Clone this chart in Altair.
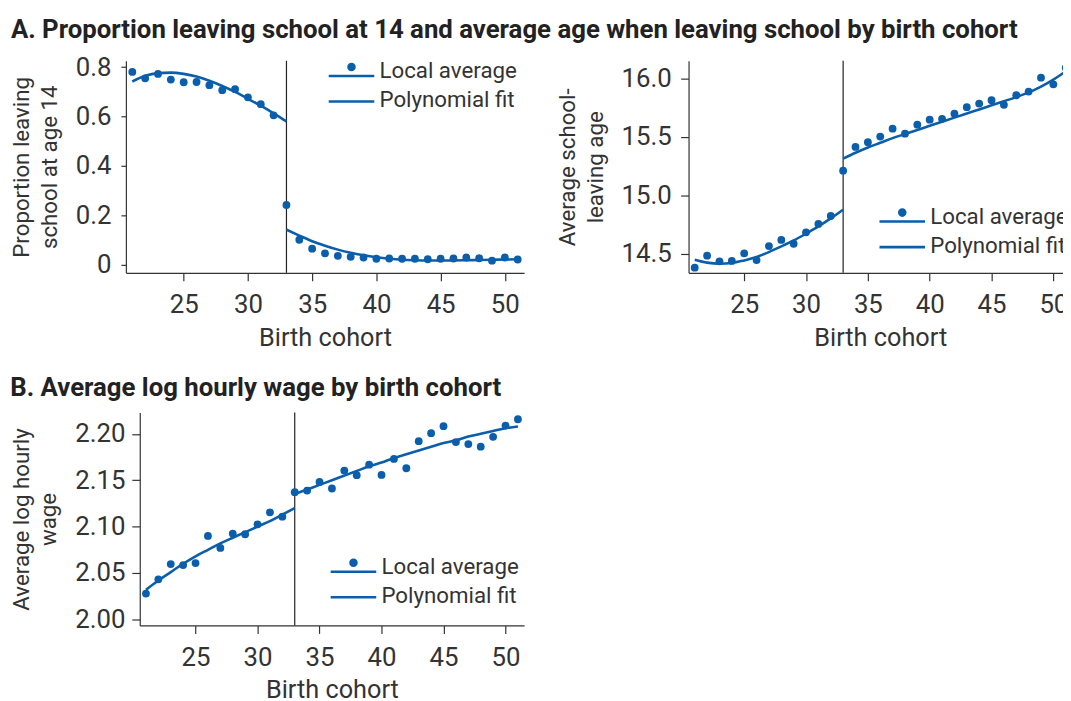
import altair as alt
import pandas as pd

BLUE = "#0a5eab"
INK = "#333333"
FONT = "Roboto"

# ---------------- data ----------------
cohort = list(range(21, 52))
left_cohort = list(range(21, 34))
right_cohort = list(range(33, 52))
cutoff = [33]
x_ticks = [25, 30, 35, 40, 45, 50]
legend_items = ["Local average", "Polynomial fit"]

prop_local = [0.781, 0.755, 0.773, 0.750, 0.739, 0.740, 0.727, 0.707, 0.711, 0.678,
              0.650, 0.605, 0.241, 0.100, 0.064, 0.045, 0.035, 0.031, 0.028, 0.023,
              0.024, 0.023, 0.023, 0.021, 0.023, 0.024, 0.028, 0.025, 0.015, 0.028, 0.020]
prop_fit_left = [0.742, 0.765, 0.776, 0.778, 0.773, 0.762, 0.745, 0.724, 0.700, 0.672,
                 0.644, 0.613, 0.580]
prop_fit_right = [0.141, 0.117, 0.094, 0.076, 0.060, 0.047, 0.037, 0.029, 0.023, 0.019,
                  0.017, 0.016, 0.016, 0.016, 0.017, 0.018, 0.019, 0.020, 0.021]
prop_ticks = [0, 0.2, 0.4, 0.6, 0.8]

age_local = [14.384, 14.486, 14.438, 14.441, 14.506, 14.449, 14.568, 14.621, 14.588, 14.686,
             14.757, 14.825, 15.212, 15.415, 15.455, 15.503, 15.571, 15.528, 15.605, 15.647,
             15.655, 15.698, 15.754, 15.785, 15.814, 15.774, 15.856, 15.887, 16.006, 15.949, 16.090]
age_fit_left = [14.452, 14.427, 14.418, 14.424, 14.446, 14.475, 14.517, 14.565, 14.616, 14.675,
                14.737, 14.805, 14.879]
age_fit_right = [15.314, 15.365, 15.410, 15.450, 15.490, 15.525, 15.560, 15.595, 15.630, 15.665,
                 15.700, 15.735, 15.770, 15.805, 15.840, 15.880, 15.930, 15.990, 16.060]
age_ticks = [14.5, 15.0, 15.5, 16.0]

wage_local = [2.0279, 2.0432, 2.0596, 2.0586, 2.0607, 2.0900, 2.0771, 2.0925, 2.0918, 2.1025,
              2.1154, 2.1107, 2.1371, 2.1389, 2.1482, 2.1411, 2.1604, 2.1554, 2.1668, 2.1557,
              2.1729, 2.1629, 2.1921, 2.2007, 2.2082, 2.1911, 2.1889, 2.1861, 2.1968, 2.2089, 2.2157]
wage_fit_left = [2.032, 2.042, 2.051, 2.060, 2.068, 2.075, 2.082, 2.088, 2.094, 2.100,
                 2.106, 2.113, 2.120]
wage_fit_right = [2.135, 2.140, 2.145, 2.150, 2.155, 2.160, 2.165, 2.169, 2.174, 2.178,
                  2.182, 2.186, 2.190, 2.193, 2.197, 2.200, 2.203, 2.206, 2.208]
wage_ticks = [2.00, 2.05, 2.10, 2.15, 2.20]

# legend symbols: line with a dot above it, and a plain line
PATH_LA = ("M-2.3,0.32 L2.3,0.32 L2.3,0.58 L-2.3,0.58 Z "
           "M-0.43,-0.45 A0.43,0.43 0 1,1 0.43,-0.45 A0.43,0.43 0 1,1 -0.43,-0.45 Z")
PATH_PF = "M-2.3,0.0 L2.3,0.0 L2.3,0.26 L-2.3,0.26 Z"


def panel(local, fit_l, fit_r, ydomain, yticks, yfmt, ytitle, width, height, lx, ly,
          ytick=8, ypad=8, shift=0, xlpad=7, xtpad=10):
    pts = pd.DataFrame({"cohort": cohort, "value": local})
    fit = pd.DataFrame({
        "cohort": left_cohort + right_cohort,
        "value": fit_l + fit_r,
        "side": ["pre"] * len(left_cohort) + ["post"] * len(right_cohort),
    })
    if shift:
        xs = alt.Scale(domain=[20.5, 51.5], nice=False, zero=False, range=[shift, width])
    else:
        xs = alt.Scale(domain=[20.5, 51.5], nice=False, zero=False)
    ys = alt.Scale(domain=ydomain, nice=False, zero=False)
    xaxis = alt.Axis(values=x_ticks, title="Birth cohort", titleFontSize=25.5,
                     titlePadding=xtpad, labelPadding=xlpad, tickSize=8)
    yargs = dict(values=yticks, format=yfmt, title=ytitle, titleFontSize=22.5,
                 titleLineHeight=28, titlePadding=14, labelPadding=ypad, tickSize=ytick)
    if shift:
        yargs["offset"] = -shift
    yaxis = alt.Axis(**yargs)
    x = alt.X("cohort:Q", scale=xs, axis=xaxis)
    y = alt.Y("value:Q", scale=ys, axis=yaxis)

    rule = alt.Chart(pd.DataFrame({"cohort": cutoff})).mark_rule(
        color="#222222", strokeWidth=1.2).encode(x=x)
    line = alt.Chart(fit).mark_line(color=BLUE, strokeWidth=2.6, interpolate="monotone").encode(
        x=x, y=y, detail="side:N")
    points = alt.Chart(pts).mark_circle(color=BLUE, size=62, opacity=1).encode(x=x, y=y)
    leg = alt.Chart(pd.DataFrame({"series": legend_items})).transform_filter(
        "datum.series == 'none'").mark_point(filled=True, color=BLUE, opacity=1).encode(
        shape=alt.Shape("series:N",
                        scale=alt.Scale(domain=legend_items, range=[PATH_LA, PATH_PF]),
                        legend=alt.Legend(title=None, orient="none", legendX=lx, legendY=ly,
                                          symbolSize=400, symbolStrokeWidth=0,
                                          symbolFillColor=BLUE, symbolOpacity=1,
                                          labelFont=FONT, labelFontSize=22.5,
                                          labelColor=INK, labelOffset=17,
                                          rowPadding=6, padding=0)))
    return alt.layer(rule, line, points, leg).properties(width=width, height=height)


pA1 = panel(prop_local, prop_fit_left, prop_fit_right, [-0.034, 0.826], prop_ticks, "~g",
            ["Proportion leaving", "school at age 14"], 402, 214, 216.5, -0.5,
            ytick=5, ypad=10, xlpad=11.5, xtpad=7.5)
pA2 = panel(age_local, age_fit_left, age_fit_right, [14.34, 16.15], age_ticks, ".1f",
            ["Average school-", "leaving age"], 387, 214, 204.5, 146.5,
            ytick=8, ypad=9.5, xlpad=11.5, xtpad=7.5)
pB = panel(wage_local, wage_fit_left, wage_fit_right, [1.9935, 2.223], wage_ticks, ".2f",
           ["Average log hourly", "wage"], 402, 215, 218.5, 145,
           ytick=8, ypad=7, shift=14, xlpad=11, xtpad=7.8)

title_style = dict(anchor="start", font=FONT, fontSize=26, fontWeight="bold",
                   color="#222222")

rowA = alt.hconcat(pA1, pA2, spacing=32,
                   title=alt.TitleParams(
                       "A. Proportion leaving school at 14 and average age when leaving school by birth cohort",
                       offset=12, **title_style)).resolve_scale(shape="independent").resolve_legend(
    shape="independent")
rowB = alt.hconcat(pB, title=alt.TitleParams("B. Average log hourly wage by birth cohort",
                                              offset=11.2, **title_style))

chart = alt.concat(rowA, rowB, columns=1, spacing=24).resolve_scale(
    shape="independent").resolve_legend(shape="independent").properties(
    padding={"left": 2, "top": 5, "right": -9, "bottom": 0},
    background="white",
).configure_view(stroke=None).configure_axis(
    grid=False, domainColor=INK, tickColor=INK, labelColor=INK, titleColor=INK,
    labelFont=FONT, titleFont=FONT, labelFontSize=26, titleFontSize=24,
    titleFontWeight="normal", domainWidth=1.2, tickWidth=1.2
)

chart.save("out.html", embed_options={"renderer": "svg", "actions": False})
